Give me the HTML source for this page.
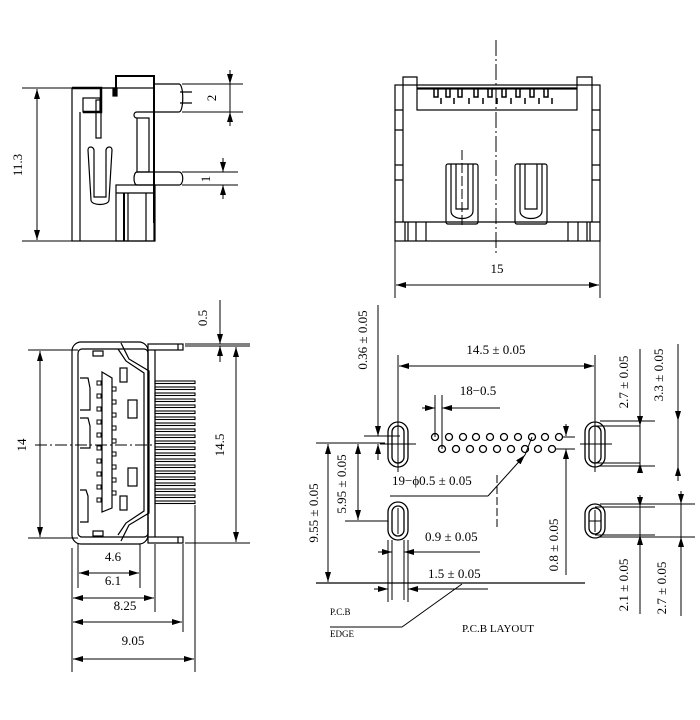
<!DOCTYPE html>
<html><head><meta charset="utf-8"><style>html,body{margin:0;padding:0;background:#fff}svg{display:block}text{font-family:"Liberation Serif",serif;font-size:13px;fill:#000}</style></head><body>
<svg width="700" height="720" viewBox="0 0 700 720" xmlns="http://www.w3.org/2000/svg" fill="none" stroke="#000" stroke-width="1">
<defs><marker id="a" viewBox="0 0 10 6" refX="10" refY="3" markerWidth="10" markerHeight="6" orient="auto-start-reverse" markerUnits="userSpaceOnUse"><path d="M0,0L10,3L0,6z" fill="#000" stroke="none"/></marker></defs>

<!-- TOP LEFT side view -->
<g stroke-width="1.2">
<rect x="72" y="88" width="82" height="153"/>
<line x1="80" y1="112" x2="80" y2="241"/>
<path d="M72,88h29v24h-18" stroke-width="2.5"/>
<rect x="83" y="98" width="17" height="14"/>
<rect x="96" y="100" width="5" height="38"/>
<path d="M88,150c0,-4 5,-4 6,0v47h12v-47c1,-4 6,-4 6,0l-3,50c0,6 -18,6 -18,0z"/>
<path d="M101,88h14" />
<rect x="113" y="88" width="4" height="8" fill="#000"/>
<path d="M116,88v-12h38v147" stroke-width="2"/>
<path d="M154,84h25c5,0 5,28 0,28h-42c-4,0 -4,6 0,6"/>
<path d="M180,92h12M180,103h12"/>
<rect x="137" y="118" width="12" height="54"/>
<path d="M137,172h42c5,0 5,13 0,13h-42c-4,0 -4,-13 0,-13"/>
<rect x="116" y="185" width="39" height="56"/>
<line x1="124" y1="193" x2="124" y2="241" stroke-width="2"/><line x1="128" y1="193" x2="128" y2="241"/><line x1="146" y1="193" x2="146" y2="241"/>
<line x1="116" y1="193" x2="155" y2="193"/>
</g>
<line x1="22" y1="88" x2="72" y2="88"/><line x1="22" y1="241" x2="72" y2="241"/>
<line x1="37" y1="89" x2="37" y2="240" marker-start="url(#a)" marker-end="url(#a)"/>
<text x="0" y="0" transform="translate(22,165) rotate(-90)" text-anchor="middle" stroke="none">11.3</text>
<line x1="182" y1="84" x2="243" y2="84"/><line x1="182" y1="112" x2="243" y2="112"/>
<line x1="230" y1="70" x2="230" y2="84" marker-end="url(#a)"/><line x1="230" y1="126" x2="230" y2="112" marker-end="url(#a)"/><line x1="230" y1="84" x2="230" y2="112"/>
<text transform="translate(216,98) rotate(-90)" text-anchor="middle" stroke="none">2</text>
<line x1="182" y1="172" x2="238" y2="172"/><line x1="182" y1="185" x2="238" y2="185"/>
<line x1="223" y1="158" x2="223" y2="172" marker-end="url(#a)"/><line x1="223" y1="199" x2="223" y2="185" marker-end="url(#a)"/>
<text transform="translate(210,179) rotate(-90)" text-anchor="middle" stroke="none">1</text>

<!-- TOP RIGHT front view -->
<g stroke-width="1.2">
<rect x="395" y="85" width="205" height="156"/>
<path d="M403,222V77h14v11h160V77h15v145" />
<rect x="417" y="89" width="160" height="21"/>
<line x1="395" y1="222" x2="600" y2="222"/>
<rect x="446" y="164" width="32" height="60" rx="2"/>
<rect x="515" y="164" width="32" height="60" rx="2"/>
<path d="M451,164v47c0,10 22,10 22,0v-47M520,164v47c0,10 22,10 22,0v-47"/>
<path d="M456,164v45h12v-45M525,164v45h12v-45"/>
<path d="M405,222v19M408,222v19M416,222v19M426,222v19M568,222v19M578,222v19M587,222v19M590,222v19"/>
<path d="M395,110h8M395,130h8M395,165h8M395,180h8M592,110h8M592,130h8M592,165h8M592,180h8"/>
</g>
<g stroke-width="1.5">
<path d="M434,89v8h4v-8M446,89v8h4v-8M458,89v8h4v-8M474,89v8h4v-8M488,89v8h4v-8M502,89v8h4v-8M516,89v8h4v-8M530,89v8h4v-8M544,89v8h4v-8"/>
<path d="M441,98v6M454,98v6M469,98v6M483,98v6M497,98v6M511,98v6M525,98v6M539,98v6M552,98v6"/>
</g>
<line x1="496" y1="40" x2="496" y2="255" stroke-dasharray="16,3,2,3"/>
<line x1="462" y1="150" x2="462" y2="225" stroke-dasharray="10,3"/>
<line x1="395" y1="241" x2="395" y2="298"/><line x1="600" y1="241" x2="600" y2="298"/>
<line x1="396" y1="285" x2="599" y2="285" marker-start="url(#a)" marker-end="url(#a)"/>
<text x="497" y="273" text-anchor="middle" stroke="none">15</text>

<!-- BOTTOM LEFT -->
<g stroke-width="1.2">
<rect x="72" y="342" width="76" height="202" rx="9"/>
<rect x="78" y="349" width="70" height="188" rx="4"/>
<path d="M121,343l8,16 20,12v142l-20,12 -8,16"/>
<path d="M118,349l8,12 18,12v138l-18,12 -8,12"/>
<rect x="148" y="344" width="35" height="6"/><rect x="148" y="537" width="35" height="6"/>
<line x1="178" y1="344" x2="178" y2="350"/><line x1="178" y1="537" x2="178" y2="543"/>
<line x1="155" y1="350" x2="155" y2="537"/><line x1="148" y1="350" x2="148" y2="537"/>
<path d="M102,372l10,6v130l-10,4z"/>
<path d="M80,378h8l2,10v22h-10M80,418h8l2,8v22h-10M80,490h6l2,6v26h-8"/>
<rect x="128" y="400" width="9" height="18"/><rect x="128" y="468" width="9" height="18"/>
<rect x="120" y="368" width="7" height="14"/><rect x="120" y="496" width="7" height="14"/>
<rect x="93" y="351" width="10" height="5"/><rect x="93" y="531" width="10" height="5"/>
</g>
<g stroke-width="1">
<rect x="97" y="381" width="4" height="4"/><rect x="97" y="394" width="4" height="4"/><rect x="97" y="407" width="4" height="4"/><rect x="97" y="420" width="4" height="4"/><rect x="97" y="433" width="4" height="4"/><rect x="97" y="446" width="4" height="4"/><rect x="97" y="459" width="4" height="4"/><rect x="97" y="472" width="4" height="4"/><rect x="97" y="485" width="4" height="4"/><rect x="97" y="498" width="4" height="4"/>
<rect x="112" y="387" width="4" height="4"/><rect x="112" y="400" width="4" height="4"/><rect x="112" y="413" width="4" height="4"/><rect x="112" y="426" width="4" height="4"/><rect x="112" y="439" width="4" height="4"/><rect x="112" y="452" width="4" height="4"/><rect x="112" y="465" width="4" height="4"/><rect x="112" y="478" width="4" height="4"/><rect x="112" y="491" width="4" height="4"/>
</g>
<g stroke-width="1.1">
<rect x="155" y="381" width="40" height="2.5"/><rect x="155" y="387" width="40" height="2.5"/><rect x="155" y="393" width="40" height="2.5"/><rect x="155" y="399" width="40" height="2.5"/><rect x="155" y="405" width="40" height="2.5"/><rect x="155" y="411" width="40" height="2.5"/><rect x="155" y="417" width="40" height="2.5"/><rect x="155" y="423" width="40" height="2.5"/><rect x="155" y="429" width="40" height="2.5"/><rect x="155" y="435" width="40" height="2.5"/><rect x="155" y="441" width="40" height="2.5"/><rect x="155" y="447" width="40" height="2.5"/><rect x="155" y="453" width="40" height="2.5"/><rect x="155" y="459" width="40" height="2.5"/><rect x="155" y="465" width="40" height="2.5"/><rect x="155" y="471" width="40" height="2.5"/><rect x="155" y="477" width="40" height="2.5"/><rect x="155" y="483" width="40" height="2.5"/><rect x="155" y="489" width="40" height="2.5"/><rect x="155" y="495" width="40" height="2.5"/><rect x="155" y="501" width="40" height="2.5"/>
</g>
<line x1="35" y1="445" x2="155" y2="445" stroke-dasharray="12,3,2,3"/>
<line x1="28" y1="350" x2="78" y2="350"/><line x1="28" y1="538" x2="78" y2="538"/>
<line x1="40" y1="351" x2="40" y2="537" marker-start="url(#a)" marker-end="url(#a)"/>
<text transform="translate(26,445) rotate(-90)" text-anchor="middle" stroke="none">14</text>
<line x1="185" y1="344" x2="250" y2="344"/><line x1="185" y1="346" x2="250" y2="346"/><line x1="185" y1="543" x2="250" y2="543"/>
<line x1="236" y1="347" x2="236" y2="542" marker-start="url(#a)" marker-end="url(#a)"/>
<text transform="translate(224,445) rotate(-90)" text-anchor="middle" stroke="none">14.5</text>
<line x1="220" y1="300" x2="220" y2="344" marker-end="url(#a)"/><line x1="220" y1="362" x2="220" y2="346" marker-end="url(#a)"/>
<text transform="translate(207,318) rotate(-90)" text-anchor="middle" stroke="none">0.5</text>
<line x1="78" y1="544" x2="78" y2="588"/><line x1="140" y1="544" x2="140" y2="588"/>
<line x1="72" y1="548" x2="72" y2="672"/><line x1="155" y1="544" x2="155" y2="612"/><line x1="183" y1="544" x2="183" y2="632"/><line x1="195" y1="505" x2="195" y2="672"/>
<text x="113" y="561" text-anchor="middle" stroke="none">4.6</text>
<line x1="79" y1="573" x2="139" y2="573" marker-start="url(#a)" marker-end="url(#a)"/>
<text x="113" y="585" text-anchor="middle" stroke="none">6.1</text>
<line x1="73" y1="598" x2="154" y2="598" marker-start="url(#a)" marker-end="url(#a)"/>
<text x="125" y="610" text-anchor="middle" stroke="none">8.25</text>
<line x1="73" y1="622" x2="182" y2="622" marker-start="url(#a)" marker-end="url(#a)"/>
<text x="133" y="645" text-anchor="middle" stroke="none">9.05</text>
<line x1="73" y1="659" x2="194" y2="659" marker-start="url(#a)" marker-end="url(#a)"/>

<!-- BOTTOM RIGHT PCB layout -->
<g stroke-width="1.3">
<rect x="388" y="422" width="20" height="45" rx="10"/><rect x="392" y="426" width="12" height="37" rx="6"/>
<rect x="388" y="502" width="20" height="38" rx="10"/><rect x="392" y="506" width="12" height="30" rx="6"/>
<rect x="585" y="422" width="20" height="45" rx="10"/><rect x="589" y="426" width="12" height="37" rx="6"/>
<rect x="585" y="504" width="20" height="34" rx="10"/><rect x="589" y="508" width="12" height="26" rx="6"/>
<circle cx="435" cy="437" r="3.5"/><circle cx="449" cy="437" r="3.5"/><circle cx="463" cy="437" r="3.5"/><circle cx="476" cy="437" r="3.5"/><circle cx="490" cy="437" r="3.5"/><circle cx="504" cy="437" r="3.5"/><circle cx="518" cy="437" r="3.5"/><circle cx="532" cy="437" r="3.5"/><circle cx="545" cy="437" r="3.5"/><circle cx="559" cy="437" r="3.5"/>
<circle cx="442" cy="449" r="3.5"/><circle cx="456" cy="449" r="3.5"/><circle cx="470" cy="449" r="3.5"/><circle cx="483" cy="449" r="3.5"/><circle cx="497" cy="449" r="3.5"/><circle cx="511" cy="449" r="3.5"/><circle cx="525" cy="449" r="3.5"/><circle cx="538" cy="449" r="3.5"/><circle cx="552" cy="449" r="3.5"/>
</g>
<line x1="398" y1="416" x2="398" y2="472"/><line x1="380" y1="444" x2="416" y2="444"/>
<line x1="595" y1="416" x2="595" y2="472"/><line x1="580" y1="444" x2="612" y2="444"/>
<line x1="398" y1="508" x2="398" y2="534"/><line x1="595" y1="510" x2="595" y2="532"/><line x1="589" y1="521" x2="601" y2="521"/>
<line x1="398" y1="355" x2="398" y2="440"/><line x1="595" y1="355" x2="595" y2="422"/>
<line x1="399" y1="366" x2="594" y2="366" marker-start="url(#a)" marker-end="url(#a)"/>
<text x="496" y="354" text-anchor="middle" stroke="none">14.5 ± 0.05</text>
<text x="478" y="395" text-anchor="middle" stroke="none">18−0.5</text>
<line x1="435" y1="395" x2="435" y2="437"/><line x1="442" y1="395" x2="442" y2="449"/>
<line x1="422" y1="408" x2="435" y2="408" marker-end="url(#a)"/><line x1="500" y1="408" x2="442" y2="408"/><line x1="455" y1="408" x2="442" y2="408" marker-end="url(#a)"/>
<line x1="378" y1="305" x2="378" y2="436" marker-end="url(#a)"/><line x1="378" y1="460" x2="378" y2="444" marker-end="url(#a)"/>
<line x1="364" y1="436" x2="400" y2="436"/>
<text transform="translate(367,340) rotate(-90)" text-anchor="middle" stroke="none">0.36 ± 0.05</text>
<line x1="316" y1="443" x2="385" y2="443"/>
<line x1="358" y1="444" x2="358" y2="520" marker-start="url(#a)" marker-end="url(#a)"/>
<line x1="345" y1="521" x2="388" y2="521"/>
<text transform="translate(346,484) rotate(-90)" text-anchor="middle" stroke="none">5.95 ± 0.05</text>
<line x1="328" y1="444" x2="328" y2="582" marker-start="url(#a)" marker-end="url(#a)"/>
<text transform="translate(318,513) rotate(-90)" text-anchor="middle" stroke="none">9.55 ± 0.05</text>
<line x1="316" y1="583" x2="585" y2="583" stroke-width="1.3"/>
<text x="392" y="485" stroke="none">19−ϕ0.5 ± 0.05</text>
<line x1="390" y1="496" x2="488" y2="496"/><line x1="488" y1="496" x2="525" y2="455" marker-end="url(#a)"/><line x1="525" y1="455" x2="532" y2="437"/>
<line x1="497" y1="475" x2="497" y2="530" stroke-dasharray="8,3"/>
<text x="425" y="541" stroke="none">0.9 ± 0.05</text>
<line x1="392" y1="540" x2="392" y2="600"/><line x1="404" y1="540" x2="404" y2="600"/>
<line x1="378" y1="552" x2="392" y2="552" marker-end="url(#a)"/><line x1="480" y1="552" x2="404" y2="552"/><line x1="418" y1="552" x2="404" y2="552" marker-end="url(#a)"/>
<line x1="388" y1="540" x2="388" y2="602"/><line x1="408" y1="540" x2="408" y2="602"/>
<text x="428" y="578" stroke="none">1.5 ± 0.05</text>
<line x1="374" y1="589" x2="388" y2="589" marker-end="url(#a)"/><line x1="422" y1="589" x2="408" y2="589" marker-end="url(#a)"/><line x1="408" y1="589" x2="488" y2="589"/>
<line x1="566" y1="424" x2="566" y2="436" marker-end="url(#a)"/><line x1="566" y1="465" x2="566" y2="449" marker-end="url(#a)"/><line x1="566" y1="465" x2="566" y2="575"/>
<line x1="556" y1="449" x2="575" y2="449"/><line x1="562" y1="437" x2="575" y2="437"/>
<text transform="translate(558,545) rotate(-90)" text-anchor="middle" stroke="none">0.8 ± 0.05</text>
<text x="330" y="615" stroke="none" style="font-size:9px">P.C.B</text>
<text x="330" y="637" stroke="none" style="font-size:9px">EDGE</text>
<line x1="330" y1="627" x2="402" y2="627"/><line x1="402" y1="627" x2="462" y2="584"/>
<text x="462" y="632" stroke="none" style="font-size:11px">P.C.B  LAYOUT</text>
<line x1="600" y1="421" x2="655" y2="421"/><line x1="600" y1="466" x2="655" y2="466"/><line x1="595" y1="426" x2="640" y2="426"/><line x1="595" y1="463" x2="640" y2="463"/>
<line x1="640" y1="349" x2="640" y2="426" marker-end="url(#a)"/><line x1="640" y1="426" x2="640" y2="463"/><line x1="640" y1="470" x2="640" y2="463" marker-end="url(#a)"/>
<text transform="translate(628,382) rotate(-90)" text-anchor="middle" stroke="none">2.7 ± 0.05</text>
<line x1="678" y1="344" x2="678" y2="421" marker-end="url(#a)"/><line x1="678" y1="421" x2="678" y2="466"/><line x1="678" y1="481" x2="678" y2="466" marker-end="url(#a)"/>
<text transform="translate(663,375) rotate(-90)" text-anchor="middle" stroke="none">3.3 ± 0.05</text>
<line x1="600" y1="504" x2="695" y2="504"/><line x1="600" y1="537" x2="695" y2="537"/><line x1="595" y1="507" x2="655" y2="507"/><line x1="595" y1="535" x2="655" y2="535"/>
<line x1="640" y1="495" x2="640" y2="507" marker-end="url(#a)"/><line x1="640" y1="507" x2="640" y2="535"/><line x1="640" y1="614" x2="640" y2="535" marker-end="url(#a)"/>
<text transform="translate(628,585) rotate(-90)" text-anchor="middle" stroke="none">2.1 ± 0.05</text>
<line x1="681" y1="491" x2="681" y2="504" marker-end="url(#a)"/><line x1="681" y1="504" x2="681" y2="537"/><line x1="681" y1="616" x2="681" y2="537" marker-end="url(#a)"/>
<text transform="translate(666,588) rotate(-90)" text-anchor="middle" stroke="none">2.7 ± 0.05</text>
</svg>
</body></html>
